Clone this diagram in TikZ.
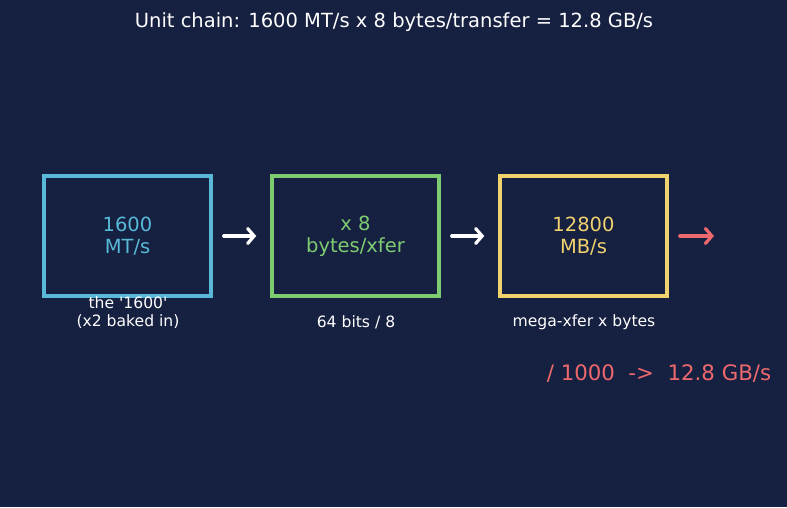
\documentclass[tikz,border=0pt]{standalone}
\usepackage{fontspec}
\setmainfont{DejaVu Sans}[Ligatures=TeXOff]
\usepackage{xcolor}
\usetikzlibrary{positioning,arrows.meta}

\definecolor{navy}{RGB}{22,32,64}
\definecolor{cyanish}{RGB}{88,186,216}
\definecolor{greenish}{RGB}{126,204,114}
\definecolor{yellowish}{RGB}{240,210,110}
\definecolor{redish}{RGB}{238,104,110}

\tikzset{
    unitbox/.style={draw, line width=3.5pt, minimum width=167pt, minimum height=120pt,
        align=center, font=\fontsize{19.5}{22}\selectfont},
    note/.style={text=white, align=center, font=\fontsize{15.6}{18}\selectfont},
    chain/.style={-{Straight Barb[length=6.5pt,width=15pt,line cap=round]}, line width=3.2pt, line cap=round}
}

\begin{document}
\begin{tikzpicture}[x=1pt, y=-1pt]
    \fill[navy] (0,0) rectangle (787,507);
    \useasboundingbox (0,0) rectangle (787,507);

    \node[text=white, font=\fontsize{19.5}{24}\selectfont] (title) at (394,22) {Unit chain: 1600 MT/s x 8 bytes/transfer = 12.8 GB/s};

    \node[unitbox, cyanish] (mts) at (127.5,236) {1600\\MT/s};
    \node[unitbox, greenish] (bytes) at (355.5,236) {x 8\\bytes/xfer};
    \node[unitbox, yellowish] (mbs) at (583.5,236) {12800\\MB/s};

    \draw[chain, white, shorten <=11pt, shorten >=14pt] (mts) -- (bytes);
    \draw[chain, white, shorten <=11pt, shorten >=14pt] (bytes) -- (mbs);
    \coordinate (out) at (714,236);
    \draw[chain, redish, shorten <=11pt] (mbs) -- (out);

    \node[note] (twice) at (128,313) {the '1600'\\(x2 baked in)};
    \node[note] (bits) at (356,322) {64 bits / 8};
    \node[note] (mega) at (584,322) {mega-xfer x bytes};

    \node[text=redish, font=\fontsize{21.3}{26}\selectfont] (gbs) at (659,374) {/ 1000\ \ ->\ \ 12.8 GB/s};
\end{tikzpicture}
\end{document}
